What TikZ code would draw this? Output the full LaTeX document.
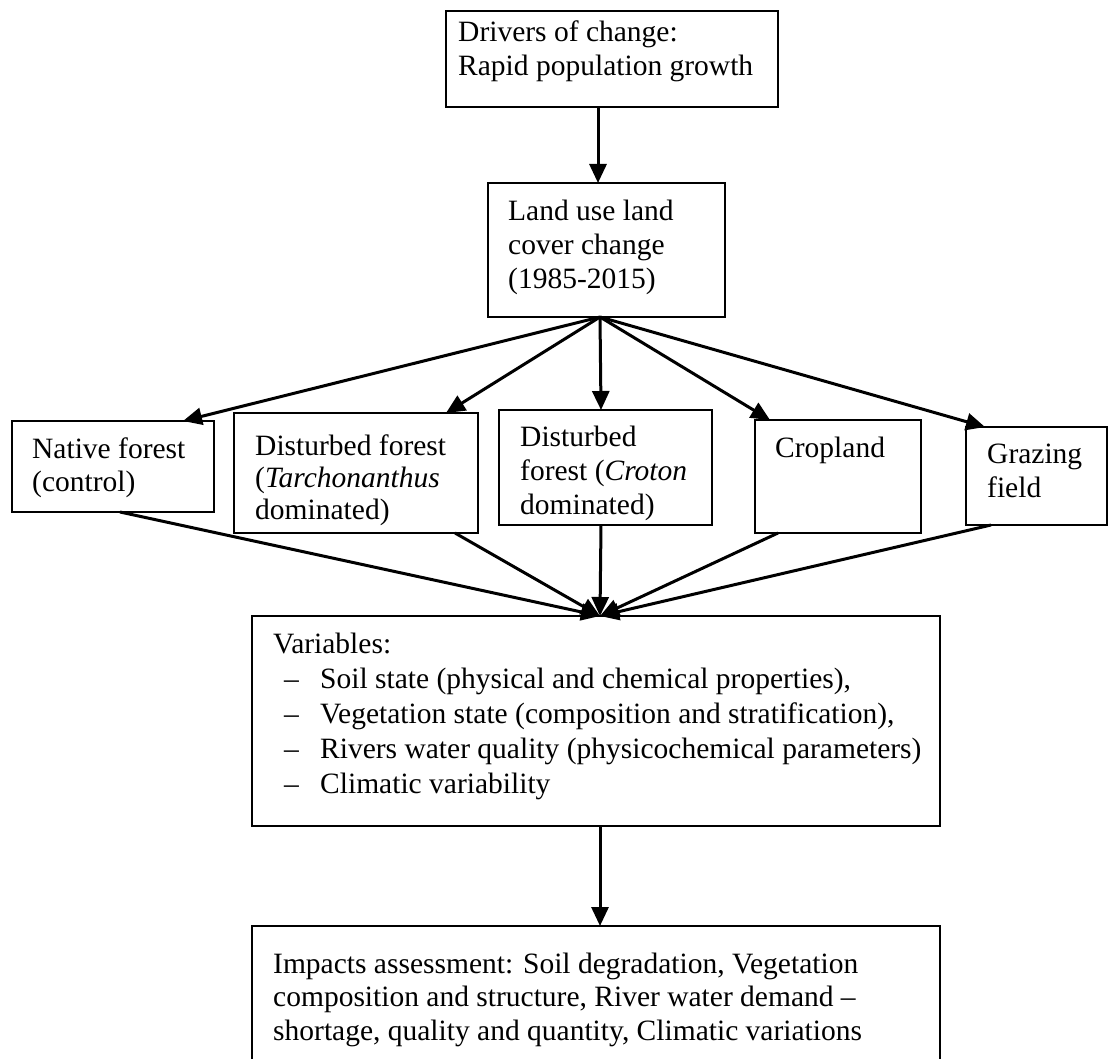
\documentclass[tikz,border=0pt]{standalone}
\usepackage{fontspec}
\setmainfont{Liberation Serif}
\usetikzlibrary{arrows.meta}
\newcommand{\boxlines}[2]{\vtop{\baselineskip=#1pt\relax #2}}
\newcommand{\itemline}[1]{\hbox{\makebox[47pt][l]{\hspace{11pt}\textendash}#1}}
\begin{document}
\begin{tikzpicture}[x=1pt,y=-1pt,
  box/.style={draw,line width=1.4pt,inner sep=0pt},
  txt/.style={anchor=base west,inner sep=0pt,font=\fontsize{29.5}{34}\selectfont},
  conn/.style={line width=3pt,-{Triangle[length=19pt,width=17pt]}}]
\clip (0,0) rectangle (1118,1059);
\fill[white] (0,0) rectangle (1118,1059);

% boxes
\node[box,minimum width=332pt,minimum height=96pt] (drivers) at (612,59) {};
\node[box,minimum width=237pt,minimum height=134pt] (luc) at (606.5,250) {};
\node[box,minimum width=202pt,minimum height=91pt] (native) at (113,466.5) {};
\node[box,minimum width=244pt,minimum height=120pt] (tarch) at (356,473) {};
\node[box,minimum width=213pt,minimum height=115pt] (croton) at (605.5,467.5) {};
\node[box,minimum width=166pt,minimum height=113pt] (crop) at (838,476.5) {};
\node[box,minimum width=141pt,minimum height=98pt] (graz) at (1036.5,476) {};
\node[box,minimum width=688pt,minimum height=210pt] (vars) at (596,721) {};
\node[box,minimum width=688pt,minimum height=149pt] (imp) at (596,1000.5) {};

% texts
\node[txt] (t-drivers) at (458,42) {\boxlines{34}{\hbox{Drivers of change:}\hbox{Rapid population growth}}};
\node[txt] (t-luc) at (508,221) {\boxlines{34}{\hbox{Land use land}\hbox{cover change}\hbox{(1985-2015)}}};
\node[txt] (t-native) at (32,458) {\boxlines{33}{\hbox{Native forest}\hbox{(control)}}};
\node[txt] (t-tarch) at (255,455) {\boxlines{32}{\hbox{Disturbed forest}\hbox{(\textit{Tarchonanthus}}\hbox{dominated)}}};
\node[txt] (t-croton) at (520,446) {\boxlines{34}{\hbox{Disturbed}\hbox{forest (\textit{Croton}}\hbox{dominated)}}};
\node[txt] (t-crop) at (775,457) {Cropland};
\node[txt] (t-graz) at (987,463) {\boxlines{34}{\hbox{Grazing}\hbox{field}}};
\node[txt] (t-vars) at (273,653) {\boxlines{35}{\hbox{Variables:}
  \itemline{Soil state (physical and chemical properties),}
  \itemline{Vegetation state (composition and stratification),}
  \itemline{Rivers water quality (physicochemical parameters)}
  \itemline{Climatic variability}}};
\node[txt] (t-imp) at (273,973) {\boxlines{33.5}{\hbox{Impacts assessment: Soil degradation, Vegetation}
  \hbox{composition and structure, River water demand \textendash}
  \hbox{shortage, quality and quantity, Climatic variations}}};

% connector end points on the box borders
\coordinate (drivers-out) at (598,107);
\coordinate (luc-in) at (598,183);
\coordinate (luc-out) at (600,317);
\coordinate (native-in) at (183,421);
\coordinate (tarch-in) at (446,413);
\coordinate (croton-in) at (601,410);
\coordinate (crop-in) at (770,420);
\coordinate (graz-in) at (985,427);
\coordinate (native-out) at (120,512);
\coordinate (tarch-out) at (455,533);
\coordinate (croton-out) at (601,525);
\coordinate (crop-out) at (778,533);
\coordinate (graz-out) at (991,525);
\coordinate (vars-in) at (600,616);
\coordinate (vars-out) at (600,826);
\coordinate (imp-in) at (600,926);

\draw[conn] (drivers-out) -- (luc-in);
\draw[conn] (luc-out) -- (native-in);
\draw[conn] (luc-out) -- (tarch-in);
\draw[conn] (luc-out) -- (croton-in);
\draw[conn] (luc-out) -- (crop-in);
\draw[conn] (luc-out) -- (graz-in);
\draw[conn] (native-out) -- (vars-in);
\draw[conn] (tarch-out) -- (vars-in);
\draw[conn] (croton-out) -- (vars-in);
\draw[conn] (crop-out) -- (vars-in);
\draw[conn] (graz-out) -- (vars-in);
\draw[conn] (vars-out) -- (imp-in);
\end{tikzpicture}
\end{document}
